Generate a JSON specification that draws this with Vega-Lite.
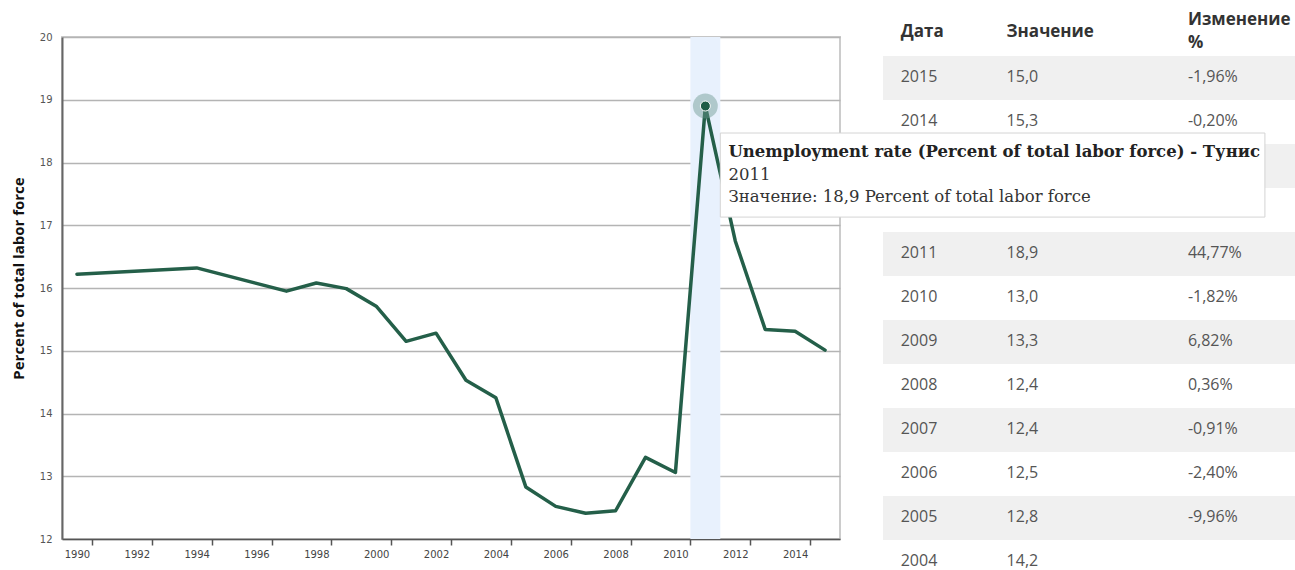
{
  "$schema": "https://vega.github.io/schema/vega-lite/v6.json",
  "width": 778,
  "height": 502,
  "autosize": {"type": "none"},
  "padding": {"left": 62, "top": 37, "right": 455, "bottom": 31},
  "background": "white",
  "config": {
    "view": {"stroke": "#cccccc", "strokeWidth": 2},
    "font": "DejaVu Sans",
    "text": {"lineBreak": "\n"}
  },
  "datasets": {
    "series": [
      {"year": 1990, "value": 16.22},
      {"year": 1994, "value": 16.32},
      {"year": 1997, "value": 15.95},
      {"year": 1998, "value": 16.08},
      {"year": 1999, "value": 15.99},
      {"year": 2000, "value": 15.71},
      {"year": 2001, "value": 15.15},
      {"year": 2002, "value": 15.28},
      {"year": 2003, "value": 14.53},
      {"year": 2004, "value": 14.25},
      {"year": 2005, "value": 12.83},
      {"year": 2006, "value": 12.52},
      {"year": 2007, "value": 12.41},
      {"year": 2008, "value": 12.45},
      {"year": 2009, "value": 13.3},
      {"year": 2010, "value": 13.06},
      {"year": 2011, "value": 18.9},
      {"year": 2012, "value": 16.75},
      {"year": 2013, "value": 15.34},
      {"year": 2014, "value": 15.31},
      {"year": 2015, "value": 15.01}
    ],
    "highlight": [{"start": 2010.5, "end": 2011.5}],
    "table": [
      {"date": "2015", "value": "15,0", "change": "-1,96%"},
      {"date": "2014", "value": "15,3", "change": "-0,20%"},
      {"date": "2013", "value": "15,3", "change": "-8,42%"},
      {"date": "2012", "value": "16,7", "change": "-11,38%"},
      {"date": "2011", "value": "18,9", "change": "44,77%"},
      {"date": "2010", "value": "13,0", "change": "-1,82%"},
      {"date": "2009", "value": "13,3", "change": "6,82%"},
      {"date": "2008", "value": "12,4", "change": "0,36%"},
      {"date": "2007", "value": "12,4", "change": "-0,91%"},
      {"date": "2006", "value": "12,5", "change": "-2,40%"},
      {"date": "2005", "value": "12,8", "change": "-9,96%"},
      {"date": "2004", "value": "14,2", "change": ""}
    ],
    "header": [{"date": "Дата", "value": "Значение", "change": "Изменение\n%"}],
    "tooltip": [
      {"title": "Unemployment rate (Percent of total labor force) - Тунис", "year": "2011", "label": "Значение: 18,9 Percent of total labor force"}
    ]
  },
  "resolve": {"scale": {"x": "independent", "y": "independent"}},
  "layer": [
    {
      "layer": [
        {
          "data": {"name": "highlight"},
          "mark": {"type": "rect", "color": "#e8f1fd"},
          "encoding": {
            "x": {"field": "start", "type": "quantitative", "scale": {"domain": [1989.5, 2015.5], "nice": false, "zero": false}},
            "x2": {"field": "end"}
          }
        },
        {
          "data": {"name": "series"},
          "mark": {"type": "line", "color": "#245f49", "strokeWidth": 3.5, "strokeJoin": "round", "strokeCap": "round"},
          "encoding": {
            "x": {
              "field": "year", "type": "quantitative",
              "scale": {"domain": [1989.5, 2015.5], "nice": false, "zero": false},
              "axis": {
                "title": null,
                "values": [1990,1991,1992,1993,1994,1995,1996,1997,1998,1999,2000,2001,2002,2003,2004,2005,2006,2007,2008,2009,2010,2011,2012,2013,2014,2015],
                "labelExpr": "datum.value % 2 == 0 ? datum.value : ''",
                "tickOffset": 15,
                "labelOffset": -15,
                "labelOverlap": false,
                "grid": false,
                "domainColor": "#555555",
                "domainWidth": 1.5,
                "tickColor": "#555555",
                "tickWidth": 1.5,
                "tickSize": 6,
                "labelFont": "DejaVu Sans",
                "labelFontSize": 10,
                "labelColor": "#444444",
                "labelPadding": 4
              }
            },
            "y": {
              "field": "value", "type": "quantitative",
              "scale": {"domain": [12, 20], "nice": false, "zero": false},
              "axis": {
                "title": "Percent of total labor force",
                "titleFont": "Open Sans",
                "titleFontSize": 15,
                "titleFontWeight": "bold",
                "titleColor": "#111111",
                "titlePadding": 13,
                "titleY": 241,
                "values": [12,13,14,15,16,17,18,19,20],
                "format": "d",
                "grid": true,
                "gridColor": "#b4b4b4",
                "gridWidth": 1.5,
                "ticks": false,
                "domainColor": "#666666",
                "domainWidth": 2,
                "labelFont": "DejaVu Sans",
                "labelFontSize": 10,
                "labelColor": "#555555",
                "labelPadding": 10
              }
            }
          }
        },
        {
          "data": {"name": "series"},
          "transform": [{"filter": {"field": "year", "equal": 2011}}],
          "mark": {"type": "point", "filled": true, "size": 620, "color": "#6a968e", "opacity": 0.45},
          "encoding": {
            "x": {"field": "year", "type": "quantitative"},
            "y": {"field": "value", "type": "quantitative"}
          }
        },
        {
          "data": {"name": "series"},
          "transform": [{"filter": {"field": "year", "equal": 2011}}],
          "mark": {"type": "point", "filled": true, "size": 100, "color": "#1f5c45", "stroke": "white", "strokeWidth": 1, "opacity": 1},
          "encoding": {
            "x": {"field": "year", "type": "quantitative"},
            "y": {"field": "value", "type": "quantitative"}
          }
        }
      ]
    },
    {
      "layer": [
        {
          "data": {"name": "table"},
          "transform": [{"filter": {"field": "date", "oneOf": ["2015", "2013", "2011", "2009", "2007", "2005"]}}],
          "mark": {"type": "rect", "color": "#f0f0f0"},
          "encoding": {
            "x": {"datum": 0, "type": "quantitative", "scale": {"domain": [0, 100], "range": [821, 1233]}, "axis": null},
            "x2": {"datum": 100},
            "y": {"field": "date", "type": "nominal", "scale": {"type": "band", "domain": ["Дата","2015","2014","2013","2012","2011","2010","2009","2008","2007","2006","2005","2004"], "range": [-25, 547], "paddingInner": 0, "paddingOuter": 0}, "axis": null}
          }
        },
        {
          "data": {"name": "table"},
          "transform": [{"filter": {"not": {"field": "date", "oneOf": ["2013", "2012"]}}}],
          "layer": [
            {
              "mark": {"type": "text", "align": "left", "baseline": "middle", "font": "Open Sans", "fontSize": 16, "color": "#555555", "dy": -1},
              "encoding": {
                "x": {"datum": 4.3, "type": "quantitative"},
                "y": {"field": "date", "type": "nominal"},
                "text": {"field": "date"}
              }
            },
            {
              "mark": {"type": "text", "align": "left", "baseline": "middle", "font": "Open Sans", "fontSize": 16, "color": "#555555", "dy": -1},
              "encoding": {
                "x": {"datum": 30, "type": "quantitative"},
                "y": {"field": "date", "type": "nominal"},
                "text": {"field": "value"}
              }
            },
            {
              "mark": {"type": "text", "align": "left", "baseline": "middle", "font": "Open Sans", "fontSize": 16, "color": "#555555", "dy": -1},
              "encoding": {
                "x": {"datum": 74, "type": "quantitative"},
                "y": {"field": "date", "type": "nominal"},
                "text": {"field": "change"}
              }
            }
          ]
        },
        {
          "data": {"name": "header"},
          "mark": {"type": "text", "align": "left", "baseline": "middle", "font": "Open Sans", "fontSize": 17, "fontWeight": "bold", "color": "#333333", "dy": -2},
          "encoding": {
            "x": {"datum": 4.3, "type": "quantitative"},
            "y": {"field": "date", "type": "nominal"},
            "text": {"field": "date"}
          }
        },
        {
          "data": {"name": "header"},
          "mark": {"type": "text", "align": "left", "baseline": "middle", "font": "Open Sans", "fontSize": 17, "fontWeight": "bold", "color": "#333333", "dy": -2},
          "encoding": {
            "x": {"datum": 30, "type": "quantitative"},
            "y": {"field": "date", "type": "nominal"},
            "text": {"field": "value"}
          }
        },
        {
          "data": {"name": "header"},
          "mark": {"type": "text", "align": "left", "baseline": "middle", "font": "Open Sans", "fontSize": 17, "fontWeight": "bold", "color": "#333333", "lineHeight": 23, "dy": -14},
          "encoding": {
            "x": {"datum": 74, "type": "quantitative"},
            "y": {"field": "date", "type": "nominal"},
            "text": {"field": "change"}
          }
        }
      ]
    },
    {
      "data": {"name": "tooltip"},
      "layer": [
        {
          "mark": {"type": "rect", "color": "#000000", "opacity": 0.08, "xOffset": 2, "yOffset": 3},
          "encoding": {
            "x": {"datum": 2011.5, "type": "quantitative", "scale": {"domain": [1989.5, 2015.5], "nice": false, "zero": false}, "axis": null},
            "x2": {"datum": 2029.7},
            "y": {"datum": 18.47, "type": "quantitative", "scale": {"domain": [12, 20], "nice": false, "zero": false}, "axis": null},
            "y2": {"datum": 17.13}
          }
        },
        {
          "mark": {"type": "rect", "fill": "white", "stroke": "#d4d4d4", "strokeWidth": 1},
          "encoding": {
            "x": {"datum": 2011.5, "type": "quantitative"},
            "x2": {"datum": 2029.7},
            "y": {"datum": 18.47, "type": "quantitative"},
            "y2": {"datum": 17.13}
          }
        },
        {
          "mark": {"type": "text", "align": "left", "baseline": "middle", "font": "DejaVu Serif", "fontSize": 16.5, "fontWeight": "bold", "color": "#222222"},
          "encoding": {
            "x": {"datum": 2011.77, "type": "quantitative"},
            "y": {"datum": 18.17, "type": "quantitative"},
            "text": {"field": "title"}
          }
        },
        {
          "mark": {"type": "text", "align": "left", "baseline": "middle", "font": "DejaVu Serif", "fontSize": 16.5, "color": "#333333"},
          "encoding": {
            "x": {"datum": 2011.77, "type": "quantitative"},
            "y": {"datum": 17.8, "type": "quantitative"},
            "text": {"field": "year"}
          }
        },
        {
          "mark": {"type": "text", "align": "left", "baseline": "middle", "font": "DejaVu Serif", "fontSize": 16.5, "color": "#333333"},
          "encoding": {
            "x": {"datum": 2011.77, "type": "quantitative"},
            "y": {"datum": 17.45, "type": "quantitative"},
            "text": {"field": "label"}
          }
        }
      ]
    }
  ]
}
